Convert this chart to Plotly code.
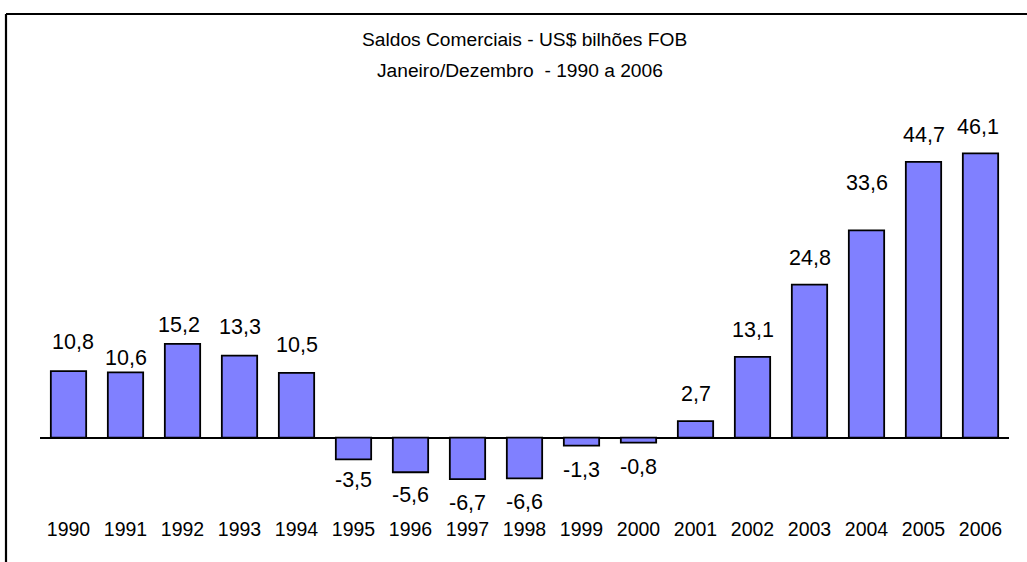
import plotly.graph_objects as go

years = ["1990", "1991", "1992", "1993", "1994", "1995", "1996", "1997", "1998",
         "1999", "2000", "2001", "2002", "2003", "2004", "2005", "2006"]
saldos = [10.8, 10.6, 15.2, 13.3, 10.5, -3.5, -5.6, -6.7, -6.6,
          -1.3, -0.8, 2.7, 13.1, 24.8, 33.6, 44.7, 46.1]
title_lines = ["Saldos Comerciais - US$ bilhões FOB", "Janeiro/Dezembro  - 1990 a 2006"]

# label placement (style): vertical shift away from bar end, horizontal nudge (px)
label_yshift = [15, 0, 4.5, 14.5, 14, 6.5, 9, 9.5, 10, 10, 10.5, 13, 13, 13, 33, 13, 12.5]
label_xshift = [4, 0, -4, 0, 0, 0, 0, 0, 0, 0, 0, 0, 0, 0, 0, 0, -3]

W, H = 1027, 562
L, R, T, B = 40, 18, 100, 47
plot_w = W - L - R
plot_h = H - T - B
px_per_unit = 6.169
zero_px = 437.7
y_top = (zero_px - T) / px_per_unit
y_bot = -((H - B) - zero_px) / px_per_unit

def px_to_paper_x(px):
    return (px - L) / plot_w

def px_to_paper_y(py):
    return ((H - B) - py) / plot_h

FONT = "Arial, Liberation Sans, sans-serif"

fig = go.Figure()
fig.add_trace(go.Bar(
    x=years, y=saldos,
    marker=dict(color="#8080FF", line=dict(color="black", width=1.8)),
    width=0.62,
    hoverinfo="skip",
))

annotations = []
for i, v in enumerate(saldos):
    txt = f"{v:.1f}".replace(".", ",")
    pos = v >= 0
    annotations.append(dict(
        x=i, y=v, xref="x", yref="y", text=txt, showarrow=False,
        xanchor="center",
        yanchor="bottom" if pos else "top",
        yshift=label_yshift[i] if pos else -label_yshift[i],
        xshift=label_xshift[i],
        font=dict(family=FONT, size=21.5, color="black"),
    ))

annotations.append(dict(
    x=px_to_paper_x(524), y=px_to_paper_y(39.5), xref="paper", yref="paper",
    text=title_lines[0], showarrow=False, xanchor="center", yanchor="middle",
    font=dict(family=FONT, size=19.2, color="black"),
))
annotations.append(dict(
    x=px_to_paper_x(520), y=px_to_paper_y(70.5), xref="paper", yref="paper",
    text=title_lines[1], showarrow=False, xanchor="center", yanchor="middle",
    font=dict(family=FONT, size=19.2, color="black"),
))

shapes = [
    dict(type="line", xref="paper", yref="paper",
         x0=px_to_paper_x(6), x1=px_to_paper_x(1040),
         y0=px_to_paper_y(14), y1=px_to_paper_y(14),
         line=dict(color="black", width=2.2)),
    dict(type="line", xref="paper", yref="paper",
         x0=px_to_paper_x(6), x1=px_to_paper_x(6),
         y0=px_to_paper_y(14), y1=px_to_paper_y(580),
         line=dict(color="black", width=2.2)),
]

fig.update_layout(
    width=W, height=H,
    margin=dict(l=L, r=R, t=T, b=B, pad=0),
    paper_bgcolor="white", plot_bgcolor="white",
    showlegend=False,
    annotations=annotations,
    shapes=shapes,
    font=dict(family=FONT, color="black"),
    xaxis=dict(
        type="category", range=[-0.5, 16.5],
        showgrid=False, showline=False, zeroline=False, ticks="",
        tickfont=dict(family=FONT, size=19.5, color="black"),
        fixedrange=True,
    ),
    yaxis=dict(
        range=[y_bot, y_top], showgrid=False, showline=False,
        showticklabels=False, ticks="",
        zeroline=True, zerolinecolor="black", zerolinewidth=1.8,
        fixedrange=True,
    ),
    bargap=0.38,
)

fig.write_html(
    "out.html",
    config={"displayModeBar": False},
    post_script="document.body.style.margin='0';document.body.style.overflow='hidden';",
)
